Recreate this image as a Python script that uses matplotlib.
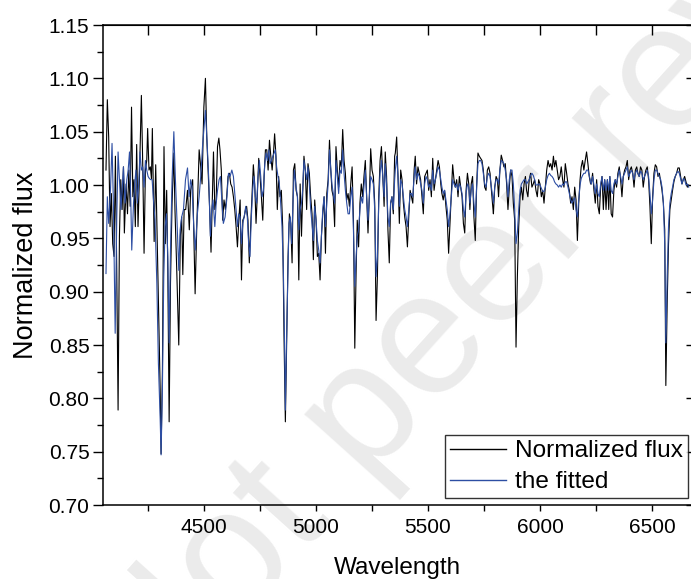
import matplotlib
matplotlib.use("Agg")
import matplotlib.pyplot as plt
import numpy as np
from matplotlib.ticker import MultipleLocator, FormatStrFormatter, NullFormatter, NullLocator

plt.rcParams['font.family'] = ['Liberation Sans', 'DejaVu Sans']

# valores (longitud de onda en A, flujo normalizado)
# tramo azul: 4060-4910, muestreo irregular
wave_obs_a = [4062, 4068, 4074, 4080, 4086, 4092, 4098, 4104, 4110, 4116,
              4122, 4128, 4134, 4140, 4144, 4152, 4158, 4164, 4170, 4176,
              4182, 4187, 4193, 4199, 4205, 4211, 4220, 4226, 4232, 4238,
              4244, 4248, 4254, 4260, 4265, 4269, 4274, 4277, 4284, 4292,
              4298, 4304, 4308, 4314, 4321, 4327, 4333, 4338, 4344, 4350,
              4357, 4365, 4370, 4378, 4387, 4394, 4400, 4405, 4411, 4418,
              4426, 4434, 4440, 4449, 4460, 4467, 4478,
              4485, 4491, 4499, 4506, 4512, 4518, 4525, 4531, 4537, 4542,
              4548, 4554, 4560, 4566, 4571, 4577, 4583, 4589, 4595, 4601,
              4607, 4613, 4619, 4625, 4631, 4637, 4643, 4649, 4655, 4661,
              4667, 4673, 4679, 4685, 4690, 4696, 4702, 4708, 4714, 4720,
              4726, 4732, 4738, 4744, 4750, 4756, 4762, 4768, 4774, 4780,
              4786, 4792, 4798, 4804, 4810, 4815, 4821, 4827, 4833, 4839,
              4845, 4851, 4857, 4863, 4869, 4875, 4881, 4887, 4893, 4899,
              4905, 4911]
flux_obs_a = [1.014, 1.080, 1.045, 0.961, 0.992, 0.945, 0.933, 1.027, 0.920, 0.789,
              0.952, 1.005, 0.977, 1.017, 0.955, 1.001, 0.973, 1.014, 0.980, 1.073,
              0.989, 1.005, 0.961, 1.038, 0.961, 1.005, 1.084, 1.020, 0.936, 1.014,
              1.023, 1.053, 1.014, 1.017, 1.006, 1.053, 0.989, 0.947, 1.019, 0.933,
              0.873, 0.808, 0.748, 0.827, 1.036, 0.945, 0.995, 0.920, 0.778, 0.908,
              0.983, 1.030, 0.977, 0.920, 0.850, 0.952, 0.970, 0.916, 0.977, 0.977,
              0.995, 0.958, 0.995, 1.005, 0.898, 0.958, 1.033,
              1.017, 1.001, 1.073, 1.100, 1.045, 1.014, 0.977, 0.937, 0.989, 1.031,
              0.977, 0.986, 1.036, 1.044, 1.033, 1.014, 0.967, 0.986, 0.977, 0.989,
              1.008, 1.011, 1.001, 0.998, 0.989, 0.977, 0.961, 0.942, 0.967, 0.986,
              0.911, 0.967, 0.970, 0.977, 0.980, 0.967, 0.927, 0.961, 0.989, 1.019,
              1.001, 0.964, 0.992, 1.025, 1.008, 0.989, 0.967, 1.008, 1.033, 1.033,
              1.014, 1.042, 1.027, 1.014, 1.030, 1.048, 1.027, 0.977, 1.008, 0.989,
              0.995, 0.961, 0.858, 0.778, 0.858, 0.933, 0.973, 0.964, 0.927, 1.014,
              1.020, 0.995]

wave_fit_a = [4062, 4068, 4074, 4082, 4089, 4095, 4103, 4110, 4116, 4122,
              4129, 4134, 4140, 4147, 4155, 4161, 4167, 4173, 4177, 4185,
              4190, 4196, 4202, 4208, 4214, 4220, 4226, 4232, 4238, 4244,
              4250, 4256, 4262, 4268, 4274, 4281, 4289, 4296, 4304, 4308,
              4314, 4320, 4326, 4332, 4338, 4344, 4350, 4357, 4365, 4372,
              4379, 4387, 4393, 4400, 4408, 4417, 4426, 4433, 4440, 4446,
              4454, 4461, 4470, 4478,
              4485, 4493, 4500, 4506, 4513, 4521, 4528, 4534, 4540, 4548,
              4554, 4560, 4567, 4573, 4580, 4586, 4594, 4601, 4609, 4616,
              4624, 4631, 4637, 4643, 4649, 4655, 4661, 4667, 4673, 4679,
              4686, 4693, 4699, 4705, 4711, 4717, 4723, 4729, 4735, 4741,
              4747, 4753, 4759, 4765, 4771, 4777, 4783, 4789, 4795, 4801,
              4807, 4813, 4818, 4824, 4830, 4836, 4842, 4848, 4854, 4859,
              4863, 4868, 4874, 4879, 4885, 4891, 4897, 4903, 4911]
flux_fit_a = [0.917, 0.989, 0.964, 0.995, 1.039, 0.983, 0.861, 0.967, 1.031, 1.005,
              0.977, 0.995, 1.017, 0.983, 1.005, 1.014, 1.031, 0.983, 0.939, 0.983,
              1.001, 1.014, 0.983, 1.001, 1.031, 1.014, 1.017, 0.998, 1.023, 1.014,
              1.008, 1.006, 1.005, 1.005, 0.986, 0.967, 0.908, 0.833, 0.780, 0.747,
              0.811, 0.914, 0.961, 0.973, 0.933, 0.852, 0.939, 1.005, 1.050, 1.005,
              0.967, 0.920, 0.958, 0.970, 0.977, 1.005, 1.016, 0.989, 1.005, 0.998,
              0.961, 0.939, 0.973, 0.989,
              1.008, 1.036, 1.055, 1.070, 1.042, 1.005, 0.952, 0.977, 0.986, 0.961,
              0.983, 0.995, 1.005, 1.008, 0.983, 0.964, 0.970, 0.986, 1.011, 1.008,
              1.014, 1.008, 0.992, 0.977, 0.961, 0.973, 0.970, 0.945, 0.964, 0.970,
              0.980, 0.970, 0.945, 0.933, 0.970, 0.995, 1.008, 0.989, 0.983, 1.008,
              1.023, 1.008, 0.989, 0.995, 1.020, 1.030, 1.023, 1.033, 1.020, 1.023,
              1.027, 1.030, 1.033, 1.017, 1.008, 1.001, 0.983, 0.961, 0.920, 0.858,
              0.789, 0.852, 0.914, 0.964, 0.970, 0.945, 0.983, 1.014, 0.998]

# tramo rojo del espectro: 4917-6664, paso de ~6 A, comun a las dos curvas
wave_b = [4917, 4923, 4929, 4935, 4940, 4946, 4952, 4958, 4964, 4970,
          4976, 4982, 4988, 4994, 5000, 5006, 5012, 5018, 5024, 5030,
          5036, 5042, 5048, 5054, 5060, 5065, 5071, 5077, 5083, 5089,
          5095, 5101, 5107, 5113, 5119, 5125, 5131, 5137, 5143, 5149,
          5155, 5161, 5167, 5173, 5179, 5184, 5190, 5196, 5202, 5208,
          5214, 5220, 5226, 5232, 5238, 5244, 5250, 5256, 5262, 5268,
          5274, 5280, 5286, 5292, 5298, 5304, 5309, 5315, 5321, 5327,
          5333, 5339, 5345, 5351,
          5354, 5360, 5366, 5372, 5378, 5384, 5390, 5396, 5402, 5408,
          5414, 5420, 5426, 5432, 5438, 5443, 5449, 5455, 5461, 5467,
          5473, 5479, 5485, 5491, 5497, 5503, 5509, 5515, 5521, 5527,
          5533, 5539, 5545, 5551, 5557, 5562, 5568, 5574, 5580, 5586,
          5592, 5598, 5604, 5610, 5616, 5622, 5628, 5634, 5640, 5646,
          5652, 5658, 5664, 5670, 5676, 5682, 5687, 5693, 5699, 5705,
          5711, 5717, 5723, 5729, 5735, 5741, 5747, 5753, 5759, 5765,
          5771, 5777, 5783, 5789,
          5792, 5798, 5804, 5810, 5815, 5821, 5827, 5833, 5839, 5845,
          5851, 5857, 5863, 5869, 5875, 5881, 5887, 5893, 5899, 5905,
          5911, 5917, 5923, 5929, 5935, 5940, 5946, 5952, 5958, 5964,
          5970, 5976, 5982, 5988, 5994, 6000, 6006, 6012, 6018, 6024,
          6030, 6036, 6042, 6048, 6054, 6060, 6065, 6071, 6077, 6083,
          6089, 6095, 6101, 6107, 6113, 6119, 6125, 6131, 6137, 6143,
          6149, 6155, 6161, 6167, 6173, 6179, 6184, 6190, 6196, 6202,
          6208, 6214, 6220, 6226,
          6229, 6235, 6241, 6247, 6253, 6259, 6265, 6271, 6277, 6283,
          6289, 6295, 6301, 6307, 6312, 6318, 6324, 6330, 6336, 6342,
          6348, 6354, 6360, 6366, 6372, 6378, 6384, 6390, 6396, 6402,
          6408, 6414, 6420, 6426, 6432, 6437, 6443, 6449, 6455, 6461,
          6467, 6473, 6479, 6485, 6491, 6497, 6503, 6509, 6515, 6521,
          6527, 6533, 6539, 6545, 6551, 6557, 6562, 6568, 6574, 6580,
          6586, 6592, 6598, 6604, 6610, 6616, 6622, 6628, 6634, 6640,
          6646, 6652, 6658, 6664]
flux_obs_b = [0.989, 0.911, 1.001, 0.952, 0.989, 1.027, 1.014, 0.977, 1.020, 1.011,
              0.989, 0.973, 0.930, 0.986, 0.967, 0.933, 0.936, 0.911, 0.952, 0.973,
              0.989, 0.936, 0.992, 1.005, 1.042, 1.017, 0.995, 0.989, 0.961, 1.036,
              1.014, 0.998, 1.023, 1.017, 1.052, 1.023, 1.011, 0.986, 0.992, 0.980,
              1.001, 1.017, 0.967, 0.847, 0.920, 0.967, 0.942, 0.983, 1.001, 0.989,
              1.008, 1.023, 0.989, 0.955, 0.989, 1.034, 1.014, 1.008, 0.983, 0.873,
              0.914, 0.989, 1.023, 1.036, 1.008, 0.980, 1.031, 1.008, 0.958, 0.927,
              0.983, 0.989, 0.973, 1.027,
              1.030, 1.045, 1.008, 0.964, 1.014, 1.005, 0.983, 0.970, 0.961, 0.942,
              0.970, 0.995, 0.989, 0.983, 1.014, 1.027, 1.001, 1.017, 1.011, 1.005,
              0.989, 0.973, 1.008, 1.011, 1.014, 0.995, 1.005, 0.989, 1.025, 0.995,
              1.005, 1.014, 1.023, 1.017, 1.001, 0.992, 0.986, 0.995, 0.980, 0.967,
              0.936, 0.964, 0.992, 1.019, 1.005, 0.998, 1.005, 0.989, 1.008, 0.998,
              0.989, 0.964, 0.955, 0.995, 1.011, 1.001, 0.977, 1.001, 1.008, 0.970,
              0.948, 0.998, 1.030, 1.027, 1.025, 1.023, 1.014, 0.998, 0.995, 1.014,
              1.017, 1.011, 0.995, 0.980,
              0.973, 0.998, 1.008, 1.005, 0.989, 1.014, 1.028, 1.023, 1.017, 1.020,
              1.001, 0.977, 0.998, 1.014, 1.008, 0.983, 0.967, 0.848, 0.914, 0.961,
              0.989, 0.998, 0.986, 1.001, 1.008, 0.995, 0.989, 1.005, 1.011, 0.998,
              1.001, 1.005, 0.995, 0.989, 1.005, 1.001, 0.989, 0.995, 0.983, 0.998,
              1.014, 1.023, 1.017, 1.020, 1.014, 1.027, 1.017, 1.023, 1.014, 1.005,
              1.008, 1.017, 1.005, 0.998, 1.020, 1.011, 1.001, 0.995, 0.983, 0.989,
              0.977, 0.998, 0.986, 0.948, 0.983, 1.005, 1.017, 1.023, 1.014, 1.023,
              1.031, 1.020, 1.008, 1.001,
              1.001, 1.011, 0.995, 0.983, 1.005, 0.980, 0.973, 0.998, 1.008, 0.977,
              1.005, 0.977, 1.005, 0.977, 1.008, 0.973, 0.970, 0.995, 1.005, 0.998,
              1.011, 1.017, 1.005, 0.989, 1.008, 1.014, 1.017, 1.023, 1.005, 1.014,
              1.017, 1.011, 0.998, 1.014, 1.017, 1.011, 1.008, 1.017, 1.014, 0.998,
              1.008, 1.014, 1.017, 1.005, 0.980, 0.945, 0.989, 1.011, 1.019, 1.017,
              1.008, 1.011, 1.003, 0.995, 0.983, 0.958, 0.812, 0.889, 0.945, 0.977,
              0.986, 0.995, 1.003, 1.008, 1.011, 1.016, 1.016, 1.008, 1.001, 1.005,
              1.008, 1.003, 0.998, 1.000]
flux_fit_b = [0.989, 0.958, 0.977, 0.983, 0.995, 1.023, 1.014, 1.005, 1.017, 1.001,
              0.977, 0.964, 0.948, 0.980, 0.967, 0.948, 0.939, 0.927, 0.952, 0.977,
              0.989, 0.961, 0.983, 1.001, 1.033, 1.017, 1.001, 0.992, 0.983, 1.023,
              1.008, 0.992, 1.014, 1.011, 1.033, 1.011, 0.995, 0.983, 0.973, 0.973,
              0.989, 0.998, 0.958, 0.905, 0.933, 0.952, 0.958, 0.977, 0.989, 0.983,
              0.998, 1.014, 0.989, 0.967, 0.989, 1.008, 1.005, 1.001, 0.977, 0.914,
              0.933, 0.983, 1.011, 1.023, 1.008, 0.989, 1.020, 1.001, 0.970, 0.961,
              0.983, 0.989, 0.977, 1.005,
              1.014, 1.027, 1.008, 0.980, 1.005, 1.001, 0.989, 0.977, 0.970, 0.961,
              0.977, 0.992, 0.992, 0.989, 1.008, 1.017, 1.005, 1.011, 1.008, 1.001,
              0.995, 0.983, 1.001, 1.008, 1.005, 0.998, 1.001, 0.995, 1.014, 1.001,
              1.005, 1.011, 1.017, 1.014, 1.005, 0.998, 0.992, 0.995, 0.986, 0.977,
              0.961, 0.973, 0.989, 1.005, 1.001, 0.998, 1.001, 0.995, 1.001, 0.998,
              0.992, 0.977, 0.970, 0.992, 1.001, 0.998, 0.983, 0.995, 1.001, 0.983,
              0.970, 0.998, 1.020, 1.023, 1.023, 1.020, 1.011, 1.001, 0.998, 1.008,
              1.011, 1.008, 0.998, 0.989,
              0.983, 0.998, 1.005, 1.005, 1.001, 1.014, 1.023, 1.022, 1.020, 1.014,
              1.005, 0.989, 1.005, 1.014, 1.014, 1.001, 0.977, 0.945, 0.955, 0.977,
              0.995, 1.001, 1.003, 1.005, 1.005, 1.001, 1.003, 1.005, 1.009, 1.011,
              1.009, 1.005, 1.000, 1.000, 1.001, 1.000, 0.997, 0.994, 0.994, 0.998,
              1.005, 1.009, 1.011, 1.009, 1.008, 1.006, 1.003, 1.001, 1.000, 0.998,
              1.000, 0.998, 1.001, 1.000, 1.003, 1.003, 0.998, 0.992, 0.986, 0.983,
              0.986, 0.988, 0.977, 0.970, 0.986, 1.000, 1.006, 1.009, 1.011, 1.011,
              1.014, 1.014, 1.009, 1.003,
              1.001, 1.008, 1.000, 0.992, 1.001, 0.992, 0.989, 1.001, 1.008, 0.995,
              1.005, 0.995, 1.005, 0.995, 1.008, 0.995, 0.992, 1.001, 1.005, 1.001,
              1.008, 1.014, 1.008, 1.001, 1.008, 1.011, 1.014, 1.017, 1.008, 1.011,
              1.014, 1.011, 1.005, 1.011, 1.014, 1.011, 1.008, 1.013, 1.011, 1.005,
              1.008, 1.011, 1.014, 1.008, 0.992, 0.973, 0.986, 1.005, 1.014, 1.014,
              1.011, 1.008, 1.005, 0.998, 0.983, 0.945, 0.852, 0.914, 0.961, 0.983,
              0.992, 0.998, 1.005, 1.008, 1.011, 1.013, 1.011, 1.006, 1.001, 1.006,
              1.005, 1.000, 1.001, 0.998]

wave_obs = np.array(wave_obs_a + wave_b)
flux_obs = np.array(flux_obs_a + flux_obs_b)
wave_fit = np.array(wave_fit_a + wave_b)
flux_fit = np.array(flux_fit_a + flux_fit_b)

fig = plt.figure(figsize=(6.91, 5.79), dpi=100)
# el eje derecho queda justo fuera de la imagen, como en el original
ax = fig.add_axes([0.1495, 0.1278, 0.852, 0.829])
ax.patch.set_visible(False)

# marca de agua del preprint
fig.text(0.858, 0.715, 'Not peer reviewed', fontsize=126, color='#ebebeb',
         rotation=48, rotation_mode='anchor', ha='center', va='center', zorder=-1)

ax.plot(wave_obs, flux_obs, color='black', lw=0.8, label='Normalized flux')
ax.plot(wave_fit, flux_fit, color='#2d4ea3', lw=0.8, label='the fitted')

ax.set_xlim(4050, 6679)
ax.set_ylim(0.70, 1.15)
ax.xaxis.set_major_locator(MultipleLocator(500))
ax.xaxis.set_minor_locator(MultipleLocator(250))
ax.yaxis.set_major_locator(MultipleLocator(0.05))
ax.yaxis.set_minor_locator(MultipleLocator(0.025))
ax.yaxis.set_major_formatter(FormatStrFormatter('%.2f'))
ax.tick_params(axis='both', which='both', direction='out', labelsize=15, width=1)
ax.tick_params(axis='y', which='major', length=7, pad=3)
ax.tick_params(axis='y', which='minor', length=4)
ax.tick_params(axis='x', which='both', length=4.5, pad=5)
for s in ax.spines.values():
    s.set_linewidth(1.1)

# marcas interiores arriba y a la derecha
top = ax.secondary_xaxis('top')
top.xaxis.set_major_locator(MultipleLocator(250))
top.xaxis.set_minor_locator(NullLocator())
top.xaxis.set_major_formatter(NullFormatter())
top.tick_params(direction='in', length=7, width=1)
right = ax.secondary_yaxis('right')
right.yaxis.set_major_locator(MultipleLocator(0.05))
right.yaxis.set_minor_locator(NullLocator())
right.yaxis.set_major_formatter(NullFormatter())
right.tick_params(direction='in', length=4, width=1)

ax.set_xlabel('Wavelength', fontsize=17.5, labelpad=14)
ax.set_ylabel('Normalized flux', fontsize=19.5, labelpad=7)

leg = ax.legend(loc='lower right', bbox_to_anchor=(0.993, 0.0146), fontsize=17.6,
                frameon=True, fancybox=False, borderaxespad=0, borderpad=0.2,
                handlelength=2.3, handletextpad=0.35, labelspacing=0.36)
leg.get_frame().set_edgecolor('black')
leg.get_frame().set_linewidth(1)
for h in leg.get_lines():
    h.set_linewidth(1)

fig.savefig('out.png', dpi=100)
